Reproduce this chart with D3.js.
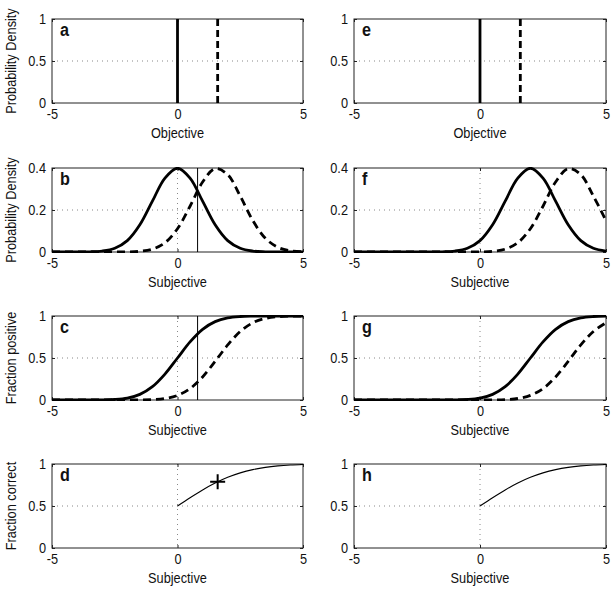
<!DOCTYPE html>
<html>
<head>
<meta charset="utf-8">
<script src="https://cdn.jsdelivr.net/npm/d3@7"></script>
<style>
  html, body { margin: 0; padding: 0; background: #fff; }
  svg { display: block; }
  text { font-family: "Liberation Sans", Arial, Helvetica, sans-serif; fill: #111; }
</style>
</head>
<body>
<svg id="chart" width="615" height="593"></svg>
<script>
// ---------------- data ----------------
const panelLetters = ["a", "b", "c", "d", "e", "f", "g", "h"];
const xTickValues = [-5, 0, 5];
const yTicksUnit = [0, 0.5, 1];
const yTicksDensity = [0, 0.2, 0.4];
const yLabels = ["Probability Density", "Probability Density", "Fraction positive", "Fraction correct"];
const xLabels = ["Objective", "Subjective", "Subjective", "Subjective"];

// objective stimulus positions (panels a, e)
const objectiveNoise = 0;
const objectiveSignal = 1.6;
// criterion (panels b, c)
const criterionLeft = 0.8;
// cross marker (panel d)
const markerX = 1.6;
const markerY = 0.79;

// sampled x positions for curves
const xs = [-5, -4.5, -4, -3.5, -3, -2.5, -2, -1.5, -1, -0.5, 0, 0.5, 1, 1.5, 2, 2.5, 3, 3.5, 4, 4.5, 5];

// panel b: subjective densities
const densNoiseB  = [0, 0, 0.0001, 0.0009, 0.0044, 0.0175, 0.054, 0.1295, 0.242, 0.3521, 0.3989, 0.3521, 0.242, 0.1295, 0.054, 0.0175, 0.0044, 0.0009, 0.0001, 0, 0];
const densSignalB = [0, 0, 0, 0, 0, 0.0001, 0.0006, 0.0033, 0.0136, 0.044, 0.1109, 0.2179, 0.3332, 0.397, 0.3683, 0.2661, 0.1497, 0.0656, 0.0224, 0.006, 0.0012];
// panel f: shifted subjective densities
const densNoiseF  = [0, 0, 0, 0, 0, 0, 0.0001, 0.0009, 0.0044, 0.0175, 0.054, 0.1295, 0.242, 0.3521, 0.3989, 0.3521, 0.242, 0.1295, 0.054, 0.0175, 0.0044];
const densSignalF = [0, 0, 0, 0, 0, 0, 0, 0, 0, 0.0001, 0.0006, 0.0033, 0.0136, 0.044, 0.1109, 0.2179, 0.3332, 0.397, 0.3683, 0.2661, 0.1497];
// panel c: fraction positive
const fracNoiseC  = [0, 0, 0, 0.0002, 0.0013, 0.0062, 0.0228, 0.0668, 0.1587, 0.3085, 0.5, 0.6915, 0.8413, 0.9332, 0.9772, 0.9938, 0.9987, 0.9998, 1, 1, 1];
const fracSignalC = [0, 0, 0, 0, 0, 0, 0.0002, 0.001, 0.0047, 0.0179, 0.0548, 0.1357, 0.2743, 0.4602, 0.6554, 0.8159, 0.9192, 0.9713, 0.9918, 0.9981, 0.9997];
// panel g: shifted fraction positive
const fracNoiseG  = [0, 0, 0, 0, 0, 0, 0, 0.0002, 0.0013, 0.0062, 0.0228, 0.0668, 0.1587, 0.3085, 0.5, 0.6915, 0.8413, 0.9332, 0.9772, 0.9938, 0.9987];
const fracSignalG = [0, 0, 0, 0, 0, 0, 0, 0, 0, 0, 0.0002, 0.001, 0.0047, 0.0179, 0.0548, 0.1357, 0.2743, 0.4602, 0.6554, 0.8159, 0.9192];
// panels d, h: fraction correct
const xsCorrect = [0, 0.5, 1, 1.5, 2, 2.5, 3, 3.5, 4, 4.5, 5];
const fracCorrect = [0.5, 0.5987, 0.6915, 0.7734, 0.8413, 0.8944, 0.9332, 0.9599, 0.9772, 0.9878, 0.9938];

// ---------------- layout ----------------
const colX = [[52, 303], [354, 606]];
const rowTop = [19, 168, 316, 464];
const panelH = 84;
const FS = 15;        // label font size
const SX = 0.85;      // horizontal squeeze of the text

const svg = d3.select("#chart");
const defs = svg.append("defs");

const panels = [];
for (let c = 0; c < 2; c++) {
  for (let r = 0; r < 4; r++) {
    panels.push({ col: c, row: r, letter: panelLetters[c * 4 + r] });
  }
}

function zipXY(xv, yv) { return xv.map((x, i) => ({ x: x, y: yv[i] })); }

function label(parent, tx, ty, rot, txt, size, weight, anchor) {
  parent.append("g")
    .attr("transform", `translate(${tx},${ty}) rotate(${rot}) scale(${SX},1)`)
    .append("text")
    .attr("text-anchor", anchor)
    .attr("font-size", size)
    .attr("font-weight", weight)
    .text(txt);
}

panels.forEach((p, idx) => {
  const [x0, x1] = colX[p.col];
  const y0 = rowTop[p.row], y1 = y0 + panelH;
  const isDensity = p.row === 1;
  const yTicks = isDensity ? yTicksDensity : yTicksUnit;
  const x = d3.scaleLinear().domain([-5, 5]).range([x0, x1]);
  const y = d3.scaleLinear().domain([0, isDensity ? 0.4 : 1]).range([y1, y0]);

  const g = svg.append("g");
  const clipId = "clip" + idx;
  defs.append("clipPath").attr("id", clipId)
    .append("rect").attr("x", x0).attr("y", y0 - 1).attr("width", x1 - x0).attr("height", y1 - y0 + 2);

  // grid (dotted) at interior ticks
  g.append("line")
    .attr("x1", x(0)).attr("x2", x(0)).attr("y1", y0).attr("y2", y1)
    .attr("stroke", "#888").attr("stroke-width", 1).attr("stroke-dasharray", "1,4");
  g.append("line")
    .attr("x1", x0).attr("x2", x1).attr("y1", y(yTicks[1])).attr("y2", y(yTicks[1]))
    .attr("stroke", "#888").attr("stroke-width", 1).attr("stroke-dasharray", "1,4");

  // axes
  const fmt = d => String(d);
  const ax = g.append("g").attr("transform", `translate(0,${y1})`)
    .call(d3.axisBottom(x).tickValues(xTickValues).tickFormat(fmt).tickSize(-3).tickPadding(5));
  const ay = g.append("g").attr("transform", `translate(${x0},0)`)
    .call(d3.axisLeft(y).tickValues(yTicks).tickFormat(fmt).tickSize(-3).tickPadding(6));
  const axT = g.append("g").attr("transform", `translate(0,${y0})`)
    .call(d3.axisTop(x).tickValues(xTickValues).tickFormat("").tickSize(-3));
  const ayR = g.append("g").attr("transform", `translate(${x1},0)`)
    .call(d3.axisRight(y).tickValues(yTicks).tickFormat("").tickSize(-3));
  [ax, ay, axT, ayR].forEach(a => {
    a.select(".domain").remove();
    a.selectAll(".tick line").attr("stroke", "#222");
    a.selectAll("text").attr("font-size", FS).attr("fill", "#111")
      .attr("transform", `scale(${SX},1)`)
      .style("font-family", '"Liberation Sans", Arial, sans-serif');
  });
  ay.selectAll("text").attr("x", -6 / SX);

  // box
  g.append("rect").attr("x", x0).attr("y", y0).attr("width", x1 - x0).attr("height", y1 - y0)
    .attr("fill", "none").attr("stroke", "#222").attr("stroke-width", 1);

  // x label
  label(g, (x0 + x1) / 2, y1 + 35, 0, xLabels[p.row], FS, "normal", "middle");
  // y label (left column only)
  if (p.col === 0) {
    label(g, 16, (y0 + y1) / 2, -90, yLabels[p.row], FS, "normal", "middle");
  }
  // panel letter
  label(g, x0 + 8, y0 + 17, 0, p.letter, 19, "bold", "start");

  const plot = g.append("g").attr("clip-path", `url(#${clipId})`);
  const line = d3.line().x(d => x(d.x)).y(d => y(d.y)).curve(d3.curveCatmullRom.alpha(0.5));
  const thick = 2.8;

  function curve(xv, yv, dashed, w) {
    plot.append("path").datum(zipXY(xv, yv)).attr("d", line)
      .attr("fill", "none").attr("stroke", "#000").attr("stroke-width", w || thick)
      .attr("stroke-dasharray", dashed ? "8,5" : null);
  }
  function vline(xv, dashed, w) {
    plot.append("line").attr("x1", x(xv)).attr("x2", x(xv)).attr("y1", y(0)).attr("y2", y(y.domain()[1]))
      .attr("stroke", "#000").attr("stroke-width", w).attr("stroke-dasharray", dashed ? "7,4" : null);
  }

  if (p.row === 0) {
    vline(objectiveNoise, false, thick);
    vline(objectiveSignal, true, thick);
  } else if (p.row === 1) {
    if (p.col === 0) {
      curve(xs, densNoiseB, false);
      curve(xs, densSignalB, true);
      vline(criterionLeft, false, 1);
    } else {
      curve(xs, densNoiseF, false);
      curve(xs, densSignalF, true);
    }
  } else if (p.row === 2) {
    if (p.col === 0) {
      curve(xs, fracNoiseC, false);
      curve(xs, fracSignalC, true);
      vline(criterionLeft, false, 1);
    } else {
      curve(xs, fracNoiseG, false);
      curve(xs, fracSignalG, true);
    }
  } else {
    curve(xsCorrect, fracCorrect, false, 1.1);
    if (p.col === 0) {
      const s = 7.5;
      const cx = x(markerX), cy = y(markerY);
      g.append("path")
        .attr("d", `M${cx - s},${cy}H${cx + s}M${cx},${cy - s}V${cy + s}`)
        .attr("stroke", "#000").attr("stroke-width", 2).attr("fill", "none");
    }
  }
});
</script>
</body>
</html>
